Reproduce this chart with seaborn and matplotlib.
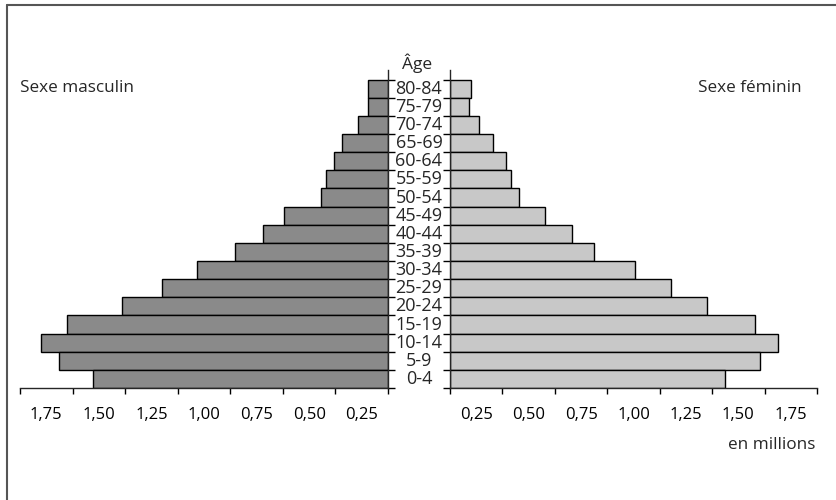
import numpy as np
import pandas as pd
import matplotlib
matplotlib.use("Agg")
import matplotlib.pyplot as plt
import matplotlib.transforms as mtransforms
import seaborn as sns

# ---------------- data ----------------
age_groups = ["80-84", "75-79", "70-74", "65-69", "60-64", "55-59", "50-54",
              "45-49", "40-44", "35-39", "30-34", "25-29", "20-24", "15-19",
              "10-14", "5-9", "0-4"]
male = [0.094, 0.094, 0.144, 0.220, 0.258, 0.295, 0.320, 0.493, 0.596,
        0.727, 0.908, 1.077, 1.263, 1.527, 1.648, 1.564, 1.402]
female = [0.102, 0.089, 0.140, 0.204, 0.267, 0.291, 0.328, 0.453, 0.581,
          0.687, 0.883, 1.053, 1.225, 1.454, 1.563, 1.478, 1.313]
tick_values = [0.0, 0.25, 0.50, 0.75, 1.00, 1.25, 1.50, 1.75]
tick_labels = ["0,25", "0,50", "0,75", "1,00", "1,25", "1,50", "1,75"]

df = pd.DataFrame({"age": age_groups, "male": male, "female": female})

# ---------------- style ----------------
sns.set_style("ticks")
plt.rcParams["font.family"] = ["Open Sans", "DejaVu Sans"]
plt.rcParams["axes.linewidth"] = 1.0
plt.rcParams["xtick.major.width"] = 1.0
plt.rcParams["ytick.major.width"] = 1.0
plt.rcParams["xtick.color"] = "black"
plt.rcParams["ytick.color"] = "black"

W, H = 836, 500
fig = plt.figure(figsize=(W / 100, H / 100), dpi=100)
fig.patch.set_facecolor("white")

# axes positions in pixels
y_bottom_px, y_top_px = 388, 70
axL = fig.add_axes([20 / W, 1 - y_bottom_px / H, (388 - 20) / W, (y_bottom_px - y_top_px) / H])
axR = fig.add_axes([450 / W, 1 - y_bottom_px / H, (817 - 450) / W, (y_bottom_px - y_top_px) / H])

male_color = "#8a8a8a"
female_color = "#c8c8c8"

sns.barplot(data=df, x="male", y="age", order=age_groups, orient="h", width=1.0,
            color=male_color, saturation=1, edgecolor="black", linewidth=1.0, ax=axL)
sns.barplot(data=df, x="female", y="age", order=age_groups, orient="h", width=1.0,
            color=female_color, saturation=1, edgecolor="black", linewidth=1.0, ax=axR)

n = len(age_groups)
top_extra = (y_bottom_px - y_top_px) / ((387.7 - 79.3) / n) - n
for ax in (axL, axR):
    ax.set_ylim(n - 0.5, -0.5 - top_extra)
    ax.set_xlabel("")
    ax.set_ylabel("")
    ax.set_yticks(np.arange(-0.5, n, 1.0))
    ax.set_yticklabels([])
    ax.set_xticks(tick_values)
    ax.set_xticklabels([])
    mids = [(a + b) / 2 for a, b in zip(tick_values[:-1], tick_values[1:])]
    ax.set_xticks(mids, minor=True)
    ax.set_xticklabels(tick_labels, minor=True, fontsize=12)
    ax.tick_params(axis="x", which="major", direction="out", length=4.5, width=1.0)
    ax.tick_params(axis="x", which="minor", length=0, pad=13.5)
    ax.tick_params(axis="y", which="major", direction="out", length=5.2, width=1.0)
    ax.spines["top"].set_visible(False)
    ax.set_facecolor("none")

axL.set_xlim(1.75, 0)
axL.spines["left"].set_visible(False)
axL.yaxis.tick_right()
axR.set_xlim(0, 1.75)
axR.spines["right"].set_visible(False)
axR.yaxis.tick_left()

# centre age labels
trans = mtransforms.blended_transform_factory(fig.transFigure, axR.transData)
for i, a in enumerate(age_groups):
    fig.text(419 / W, i, a, transform=trans, ha="center", va="center", fontsize=13)

fig.text(417 / W, 1 - 63 / H, "Âge", ha="center", va="center", fontsize=12.5)
fig.text(20 / W, 1 - 88 / H, "Sexe masculin", ha="left", va="center", fontsize=12.3)
fig.text(802 / W, 1 - 88 / H, "Sexe féminin", ha="right", va="center", fontsize=12.3)
fig.text(815 / W, 1 - 445 / H, "en millions", ha="right", va="center", fontsize=12.3)

# outer frame (left and top lines)
frame_color = "#555555"
fig.add_artist(plt.Line2D([7 / W, 7 / W], [1 - 5 / H, 0], transform=fig.transFigure,
                          color=frame_color, lw=1.5))
fig.add_artist(plt.Line2D([7 / W, 1], [1 - 5 / H, 1 - 5 / H], transform=fig.transFigure,
                          color=frame_color, lw=1.5))

fig.savefig("out.png", dpi=100)
